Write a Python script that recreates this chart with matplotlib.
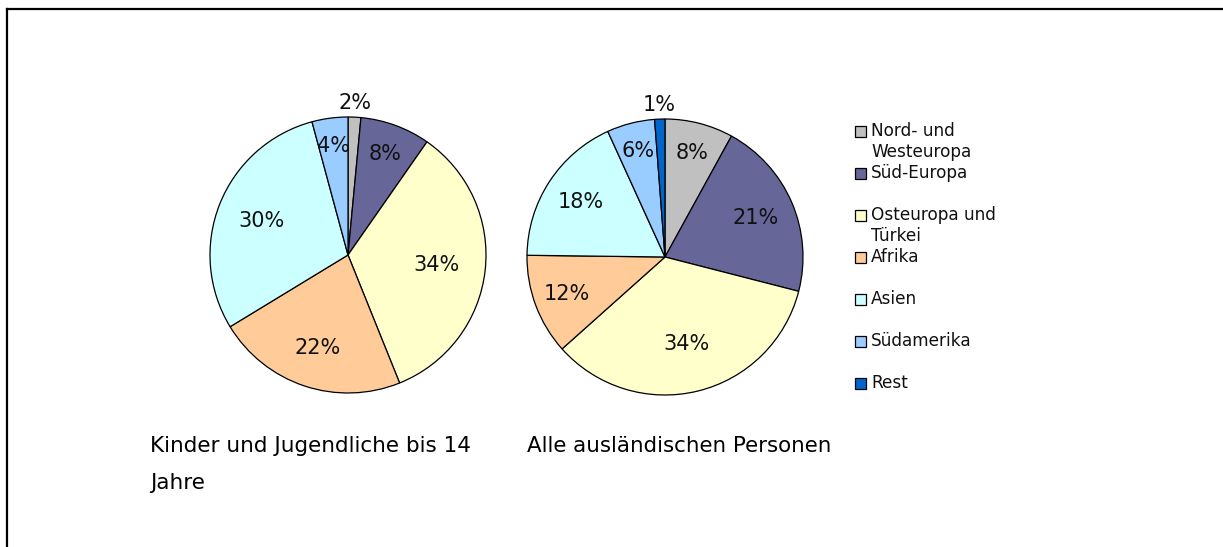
import matplotlib
matplotlib.use("Agg")
import numpy as np
import matplotlib.pyplot as plt
from matplotlib.patches import Rectangle
from matplotlib.lines import Line2D

# Anteile (%) je Herkunftsregion
regions = ["Nord- und\nWesteuropa", "Süd-Europa", "Osteuropa und\nTürkei", "Afrika",
           "Asien", "Südamerika", "Rest"]
colors = ["#C0C0C0", "#666699", "#FFFFCC", "#FFCC99", "#CCFFFF", "#99CCFF", "#0066CC"]
kinder = [1.5, 8.2, 34.2, 22.4, 29.5, 4.2, 0.0]
alle = [8.0, 21.0, 34.4, 11.8, 18.0, 5.6, 1.2]
titles = ["Kinder und Jugendliche bis 14", "Jahre", "Alle ausländischen Personen"]

W, H = 1223, 547
fig = plt.figure(figsize=(W / 100, H / 100), dpi=100)

# frame (top and left edges only visible)
fig.add_artist(Line2D([7 / W, 7 / W], [0, 1 - 8.5 / H], transform=fig.transFigure, color="black", lw=1.6))
fig.add_artist(Line2D([7 / W, 1], [1 - 8.5 / H, 1 - 8.5 / H], transform=fig.transFigure, color="black", lw=1.6))


def draw_pie(cx, cy, r, values):
    pad = 1.25
    ax = fig.add_axes([(cx - r * pad) / W, (H - cy - r * pad) / H, 2 * r * pad / W, 2 * r * pad / H])
    idx = [i for i, v in enumerate(values) if v > 0]
    vals = [values[i] for i in idx]
    cols = [colors[i] for i in idx]
    wedges, _ = ax.pie(vals, colors=cols, startangle=90, counterclock=False, radius=1,
                       wedgeprops=dict(edgecolor="black", linewidth=0.9))
    total = sum(vals)
    for w, v in zip(wedges, vals):
        ang = np.deg2rad((w.theta1 + w.theta2) / 2)
        # small slices: label outside; larger slices sit closer to the centre
        d = 1.1 if v < 2 else 0.82 - 0.005 * v
        ax.text(d * np.cos(ang), d * np.sin(ang), f"{round(100 * v / total):.0f}%",
                ha="center", va="center", fontsize=15, color="#111111")
    ax.set_xlim(-pad, pad)
    ax.set_ylim(-pad, pad)
    ax.set_aspect("equal")
    ax.axis("off")


draw_pie(348, 255, 138, kinder)
draw_pie(665, 257, 138, alle)

# Beschriftung unter den Diagrammen
fig.text(150 / W, 1 - 446 / H, titles[0], fontsize=15.5, va="center", ha="left")
fig.text(150 / W, 1 - 483 / H, titles[1], fontsize=15.5, va="center", ha="left")
fig.text(527 / W, 1 - 446 / H, titles[2], fontsize=15.4, va="center", ha="left")

# Legende
y0, step = 131, 42
for i, (name, c) in enumerate(zip(regions, colors)):
    y = y0 + i * step
    fig.add_artist(Rectangle((855 / W, 1 - (y + 5.5) / H), 11 / W, 11 / H, transform=fig.transFigure,
                             facecolor=c, edgecolor="black", lw=0.9))
    fig.text(871 / W, 1 - (y - 9) / H, name, fontsize=12.2, va="top", ha="left",
             linespacing=1.2, color="#111111")

fig.savefig("out.png", dpi=100)
